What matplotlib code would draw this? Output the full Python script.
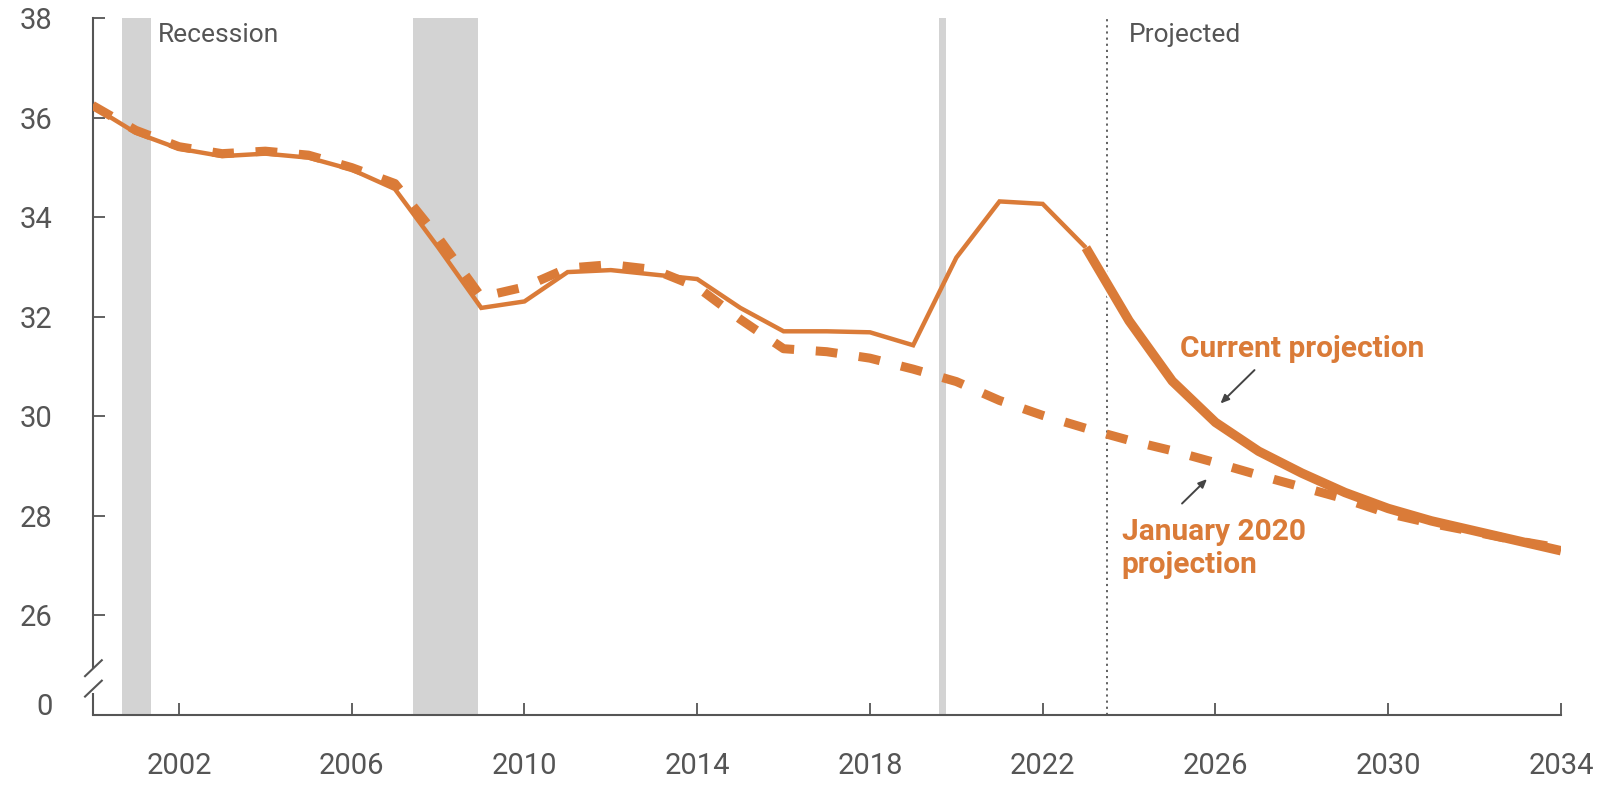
import matplotlib
matplotlib.use("Agg")
import matplotlib.pyplot as plt
import matplotlib.patheffects as pe
from matplotlib import font_manager
import matplotlib.transforms as mtransforms

# data
years_hist = [2000, 2001, 2002, 2003, 2004, 2005, 2006, 2007, 2008, 2009, 2010, 2011,
              2012, 2013, 2014, 2015, 2016, 2017, 2018, 2019, 2020, 2021, 2022, 2023]
current_hist = [36.23, 35.70, 35.38, 35.23, 35.28, 35.20, 34.96, 34.57, 33.40, 32.18, 32.31, 32.90,
                32.94, 32.85, 32.76, 32.18, 31.71, 31.71, 31.69, 31.43, 33.19, 34.32, 34.27, 33.39]
years_proj = [2023, 2024, 2025, 2026, 2027, 2028, 2029, 2030, 2031, 2032, 2033, 2034]
current_proj = [33.39, 31.92, 30.71, 29.88, 29.30, 28.86, 28.47, 28.15, 27.90, 27.70, 27.50, 27.30]
years_jan = list(range(2000, 2035))
jan2020 = [36.25, 35.75, 35.42, 35.28, 35.33, 35.25, 35.00, 34.68, 33.60, 32.40, 32.60, 32.98,
           33.05, 32.95, 32.60, 31.95, 31.36, 31.30, 31.17, 30.95, 30.70, 30.32, 30.02, 29.76,
           29.52, 29.31, 29.07, 28.82, 28.58, 28.34, 28.05, 27.85, 27.68, 27.50, 27.35]
recessions = [(2000.68, 2001.35), (2007.42, 2008.93), (2019.61, 2019.76)]
projected_start = 2023.5
xticks = [2002, 2006, 2010, 2014, 2018, 2022, 2026, 2030, 2034]
yticks = [26, 28, 30, 32, 34, 36, 38]

ORANGE = "#DA7B38"
GRAY = "#555555"
SHADE = "#D3D3D3"


def pick_font(names):
    have = {f.name for f in font_manager.fontManager.ttflist}
    for n in names:
        if n in have:
            return n
    return "DejaVu Sans"


FONT = pick_font(["Roboto", "Lato", "DejaVu Sans"])
plt.rcParams["font.family"] = [FONT, "DejaVu Sans"]

fig = plt.figure(figsize=(16.01, 7.85), dpi=100)
ax = fig.add_axes([0.0578, 0.0892, 0.9172, 0.8875])
ax.set_xlim(2000, 2034)
ax.set_ylim(24, 38)

# recession shading
for a, b in recessions:
    ax.axvspan(a, b, color=SHADE, lw=0, zorder=0)

# projected divider
ax.axvline(projected_start, color=GRAY, lw=1.3, ls=(0, (1.2, 2.2)), zorder=1)

# lines
ax.plot(years_hist, current_hist, color=ORANGE, lw=3.2, solid_joinstyle="miter",
        solid_capstyle="butt", zorder=3)
ax.plot(years_proj, current_proj, color=ORANGE, lw=6.8, solid_capstyle="butt",
        solid_joinstyle="round", zorder=4,
        path_effects=[pe.Stroke(linewidth=9.8, foreground="white"), pe.Normal()])
ax.plot(years_jan, jan2020, color=ORANGE, lw=6.5, dashes=(2.4, 2.4),
        dash_capstyle="butt", zorder=5)

# spines and ticks
for s in ["top", "right"]:
    ax.spines[s].set_visible(False)
ax.spines["left"].set_color(GRAY)
ax.spines["bottom"].set_color(GRAY)
ax.spines["left"].set_linewidth(1.5)
ax.spines["bottom"].set_linewidth(1.5)
ax.spines["left"].set_bounds(24.97, 38)

ax.set_xticks(xticks)
ax.set_xticklabels([str(t) for t in xticks])
ax.set_yticks(yticks)
ax.set_yticklabels([str(t) for t in yticks])
ax.tick_params(axis="both", direction="in", length=8.5, width=1.3, color=GRAY,
               labelcolor=GRAY, labelsize=21)
ax.tick_params(axis="x", pad=27)
ax.tick_params(axis="y", pad=29)

# broken axis marks
trans = mtransforms.blended_transform_factory(ax.transAxes, ax.transData)
ax.plot([0, 0], [24, 24.44], color=GRAY, lw=1.5, transform=trans, clip_on=False,
        solid_capstyle="butt")
ax.plot([-0.0051, 0.0063], [24.78, 25.10], color=GRAY, lw=1.5, transform=trans, clip_on=False)
ax.plot([-0.0051, 0.0063], [24.37, 24.69], color=GRAY, lw=1.5, transform=trans, clip_on=False)
ax.annotate("0", xy=(0, 24.17), xycoords=trans, xytext=(-29, 0),
            textcoords="offset points", ha="right", va="center", fontsize=21, color=GRAY)

# labels
ax.text(2001.52, 37.53, "Recession", color=GRAY, fontsize=19, va="baseline", ha="left")
ax.text(2024.0, 37.53, "Projected", color=GRAY, fontsize=19, va="baseline", ha="left")
ax.text(2025.18, 31.2, "Current projection", color=ORANGE, fontsize=21.5,
        fontweight="bold", va="baseline", ha="left")
ax.text(2023.83, 27.52, "January 2020", color=ORANGE, fontsize=21.5,
        fontweight="bold", va="baseline", ha="left")
ax.text(2023.83, 26.86, "projection", color=ORANGE, fontsize=21.5,
        fontweight="bold", va="baseline", ha="left")
ax.annotate("", xy=(2026.07, 30.22), xytext=(2026.95, 30.97),
            arrowprops=dict(arrowstyle="-|>,head_length=0.5,head_width=0.22",
                            color="#444444", lw=1.4))
ax.annotate("", xy=(2025.85, 28.78), xytext=(2025.18, 28.21),
            arrowprops=dict(arrowstyle="-|>,head_length=0.5,head_width=0.22",
                            color="#444444", lw=1.4))

fig.savefig("out.png", dpi=100, facecolor="white")
